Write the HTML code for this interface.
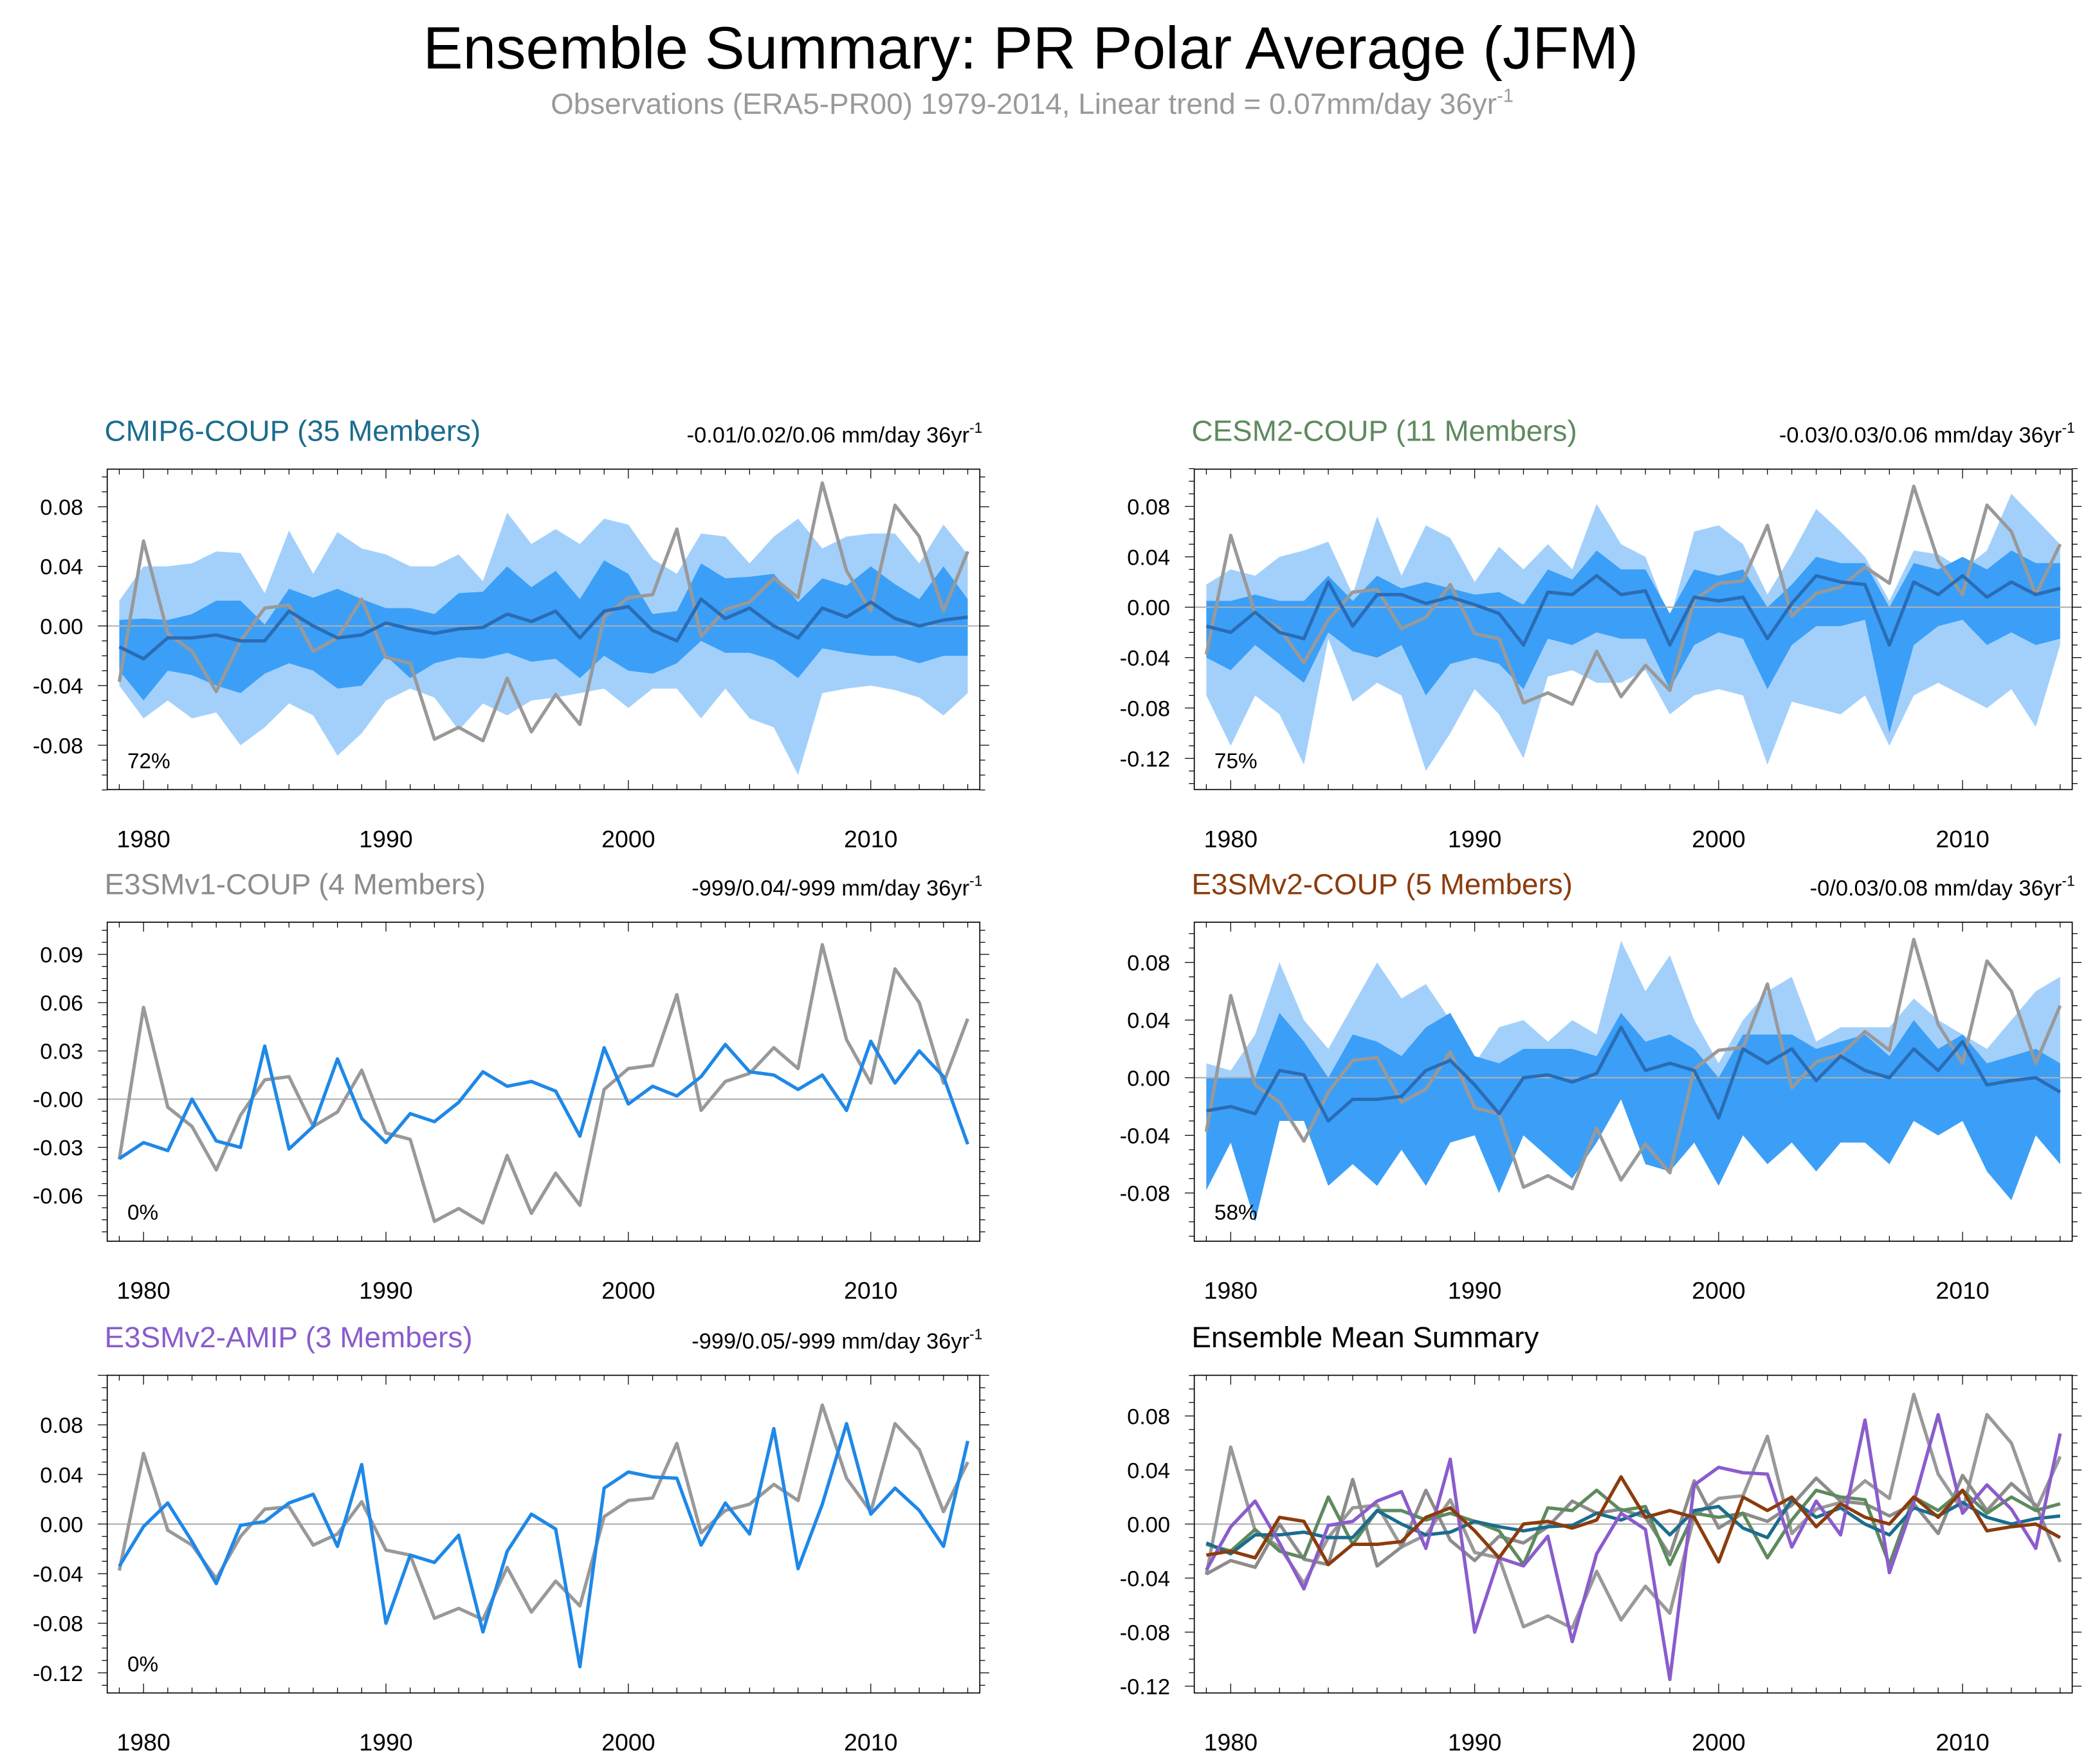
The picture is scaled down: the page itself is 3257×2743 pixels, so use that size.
<!DOCTYPE html>
<html><head><meta charset="utf-8"><style>
html,body{margin:0;padding:0;background:#fff}
svg{display:block}
text{font-family:"Liberation Sans",sans-serif}
</style></head><body>
<svg id="fig" xmlns="http://www.w3.org/2000/svg" width="3257" height="2743" viewBox="0 0 1563 1316" preserveAspectRatio="none">
<text x="769" y="51" font-size="44.5" text-anchor="middle" fill="#000">Ensemble Summary: PR Polar Average (JFM)</text>
<text x="770" y="85" font-size="22" text-anchor="middle" fill="#9a9a9a">Observations (ERA5-PR00) 1979-2014, Linear trend = 0.07mm/day 36yr<tspan dy="-9" font-size="14">-1</tspan></text>
</svg>
<script>
const years = Array.from({length:36},(_, i)=>1979+i);
const obs = [-0.0375,0.057,-0.005,-0.017,-0.044,-0.010,0.012,0.014,-0.017,-0.008,0.018,-0.021,-0.025,-0.076,-0.068,-0.077,-0.035,-0.071,-0.046,-0.066,0.006,0.019,0.021,0.065,-0.007,0.011,0.016,0.032,0.019,0.096,0.037,0.010,0.081,0.060,0.010,0.050];
const cmipMean = [-0.014,-0.022,-0.008,-0.008,-0.006,-0.010,-0.010,0.010,0.000,-0.008,-0.006,0.002,-0.002,-0.005,-0.002,-0.001,0.008,0.003,0.010,-0.008,0.010,0.013,-0.003,-0.010,0.018,0.005,0.012,0.000,-0.008,0.012,0.006,0.016,0.005,0.000,0.004,0.006];
const cmipOutHi = [0.017,0.040,0.040,0.042,0.050,0.049,0.022,0.064,0.035,0.063,0.052,0.048,0.040,0.040,0.048,0.030,0.076,0.055,0.065,0.055,0.072,0.068,0.045,0.035,0.062,0.060,0.042,0.060,0.072,0.052,0.060,0.062,0.062,0.042,0.068,0.048];
const cmipOutLo = [-0.040,-0.062,-0.050,-0.062,-0.058,-0.080,-0.068,-0.052,-0.060,-0.087,-0.072,-0.050,-0.042,-0.048,-0.070,-0.052,-0.060,-0.050,-0.048,-0.045,-0.042,-0.055,-0.042,-0.042,-0.062,-0.042,-0.062,-0.068,-0.100,-0.045,-0.042,-0.040,-0.043,-0.048,-0.060,-0.045];
const cmipInHi = [0.004,0.005,0.004,0.008,0.017,0.017,0.001,0.025,0.019,0.025,0.018,0.012,0.012,0.008,0.022,0.023,0.040,0.026,0.037,0.018,0.044,0.035,0.008,0.010,0.042,0.032,0.033,0.035,0.016,0.032,0.027,0.040,0.028,0.018,0.040,0.018];
const cmipInLo = [-0.030,-0.050,-0.030,-0.033,-0.040,-0.045,-0.032,-0.025,-0.030,-0.042,-0.040,-0.020,-0.035,-0.025,-0.021,-0.022,-0.018,-0.024,-0.022,-0.035,-0.020,-0.030,-0.032,-0.025,-0.010,-0.018,-0.018,-0.023,-0.035,-0.015,-0.018,-0.020,-0.020,-0.025,-0.020,-0.020];
const cesmMean = [-0.015,-0.020,-0.004,-0.020,-0.025,0.020,-0.015,0.010,0.010,0.003,0.008,0.002,-0.005,-0.030,0.012,0.010,0.025,0.010,0.013,-0.030,0.008,0.005,0.008,-0.025,0.003,0.025,0.020,0.018,-0.030,0.020,0.010,0.025,0.008,0.020,0.010,0.015];
const cesmOutHi = [0.018,0.030,0.025,0.040,0.045,0.052,0.010,0.072,0.025,0.065,0.055,0.020,0.048,0.030,0.050,0.030,0.082,0.050,0.040,-0.010,0.060,0.065,0.050,0.010,0.042,0.078,0.060,0.040,0.005,0.045,0.042,0.030,0.045,0.090,0.070,0.050];
const cesmOutLo = [-0.070,-0.110,-0.070,-0.085,-0.125,-0.025,-0.075,-0.060,-0.070,-0.130,-0.100,-0.065,-0.085,-0.120,-0.055,-0.050,-0.060,-0.060,-0.050,-0.085,-0.070,-0.065,-0.070,-0.125,-0.075,-0.080,-0.085,-0.070,-0.110,-0.070,-0.060,-0.070,-0.080,-0.065,-0.095,-0.030];
const cesmInHi = [0.005,0.005,0.010,0.005,0.005,0.025,0.005,0.025,0.015,0.020,0.015,0.010,0.012,0.002,0.030,0.022,0.045,0.030,0.030,-0.005,0.030,0.025,0.030,0.000,0.018,0.040,0.035,0.035,0.000,0.035,0.030,0.040,0.030,0.045,0.035,0.035];
const cesmInLo = [-0.040,-0.050,-0.030,-0.045,-0.060,-0.020,-0.035,-0.040,-0.030,-0.070,-0.045,-0.040,-0.045,-0.065,-0.025,-0.030,-0.020,-0.025,-0.025,-0.065,-0.030,-0.020,-0.025,-0.065,-0.030,-0.015,-0.015,-0.010,-0.100,-0.030,-0.015,-0.010,-0.030,-0.020,-0.030,-0.025];
const v1Mean = [-0.037,-0.027,-0.032,0.000,-0.026,-0.030,0.033,-0.031,-0.017,0.025,-0.012,-0.027,-0.009,-0.014,-0.002,0.017,0.008,0.011,0.005,-0.023,0.032,-0.003,0.008,0.002,0.014,0.034,0.017,0.015,0.006,0.015,-0.007,0.036,0.010,0.030,0.014,-0.028];
const v2Mean = [-0.023,-0.020,-0.025,0.005,0.002,-0.030,-0.015,-0.015,-0.013,0.005,0.012,-0.005,-0.025,0.000,0.002,-0.003,0.003,0.035,0.005,0.010,0.005,-0.028,0.020,0.010,0.020,-0.002,0.015,0.005,0.000,0.020,0.005,0.025,-0.005,-0.002,0.000,-0.010];
const v2OutHi = [0.010,0.005,0.030,0.080,0.040,0.020,0.050,0.080,0.055,0.065,0.040,0.010,0.035,0.040,0.025,0.040,0.030,0.095,0.060,0.085,0.040,0.010,0.040,0.060,0.070,0.025,0.035,0.035,0.035,0.055,0.040,0.030,0.020,0.040,0.060,0.070];
const v2InHi = [0.000,0.000,0.000,0.045,0.025,0.000,0.030,0.025,0.015,0.035,0.045,0.015,0.010,0.020,0.020,0.020,0.015,0.045,0.025,0.030,0.020,0.000,0.030,0.030,0.030,0.020,0.025,0.030,0.015,0.040,0.020,0.030,0.010,0.015,0.020,0.010];
const v2InLo = [-0.078,-0.045,-0.100,-0.030,-0.030,-0.075,-0.060,-0.075,-0.050,-0.075,-0.045,-0.040,-0.080,-0.040,-0.055,-0.070,-0.045,-0.015,-0.060,-0.065,-0.045,-0.075,-0.040,-0.060,-0.045,-0.065,-0.045,-0.045,-0.060,-0.030,-0.040,-0.030,-0.065,-0.085,-0.040,-0.060];
const amipMean = [-0.034,-0.002,0.017,-0.014,-0.048,-0.001,0.002,0.017,0.024,-0.018,0.048,-0.080,-0.025,-0.031,-0.009,-0.087,-0.022,0.008,-0.004,-0.115,0.029,0.042,0.038,0.037,-0.017,0.017,-0.008,0.077,-0.036,0.016,0.081,0.008,0.029,0.011,-0.018,0.067];
const xTickYears = [1980,1990,2000,2010];

const NS="http://www.w3.org/2000/svg";
const svg=document.getElementById('fig');
function mk(tag,attrs,parent){const e=document.createElementNS(NS,tag);for(const k in attrs)e.setAttribute(k,attrs[k]);(parent||svg).appendChild(e);return e;}

function panel(cfg){
  const g=mk('g',{});
  
  
  const {x0,x1,y0,y1,vmin,vmax}=cfg;
  const sx=yr=>x0+9+(yr-1979)*(x1-x0-18)/35;
  const sy=v=>cfg.zeroY - v*cfg.pxPerUnit;
  const poly=(hi,lo,fill,nm)=>{
    let pts=years.map((y,i)=>sx(y)+','+sy(hi[i]));
    pts=pts.concat(years.slice().reverse().map((y,j)=>sx(y)+','+sy(lo[35-j])));
    const p=mk('polygon',{points:pts.join(' '),fill:fill},g);
    
    
  };
  const line=(arr,col,w,nm)=>{
    const p=mk('polyline',{points:years.map((y,i)=>sx(y)+','+sy(arr[i])).join(' '),fill:'none',stroke:col,'stroke-width':w,'stroke-linejoin':'round'},g);
    
    
  };
  if(cfg.outer){poly(cfg.outer[0],cfg.outer[1],'#a3d0fb','outer-spread-band');}
  if(cfg.inner){poly(cfg.inner[0],cfg.inner[1],'#3b9ff7','inner-spread-band');}
  const zl=mk('line',{x1:x0,x2:x1,y1:sy(0),y2:sy(0),stroke:'#b0b0b0','stroke-width':1},g);
  
  
  (cfg.lines||[]).forEach(l=>line(l[0],l[1],l[2],l[3]));
  const fr=mk('rect',{x:x0,y:y0,width:x1-x0,height:y1-y0,fill:'none',stroke:'#000','stroke-width':0.8},g);
  
  
  years.forEach(yr=>{
    const major=yr%10===0, x=sx(yr), L=major?7:4;
    mk('line',{x1:x,x2:x,y1:y1,y2:y1-L,stroke:'#000','stroke-width':0.6},g);
    mk('line',{x1:x,x2:x,y1:y0,y2:y0+L,stroke:'#000','stroke-width':0.6},g);
  });
  xTickYears.forEach(yr=>{
    const t=mk('text',{x:sx(yr),y:y1+43,'font-size':18,'text-anchor':'middle'},g);
    t.textContent=yr;
    
    
  });
  const step=cfg.step, minor=step/4;
  for(let v=Math.ceil(vmin/minor)*minor; v<=vmax+1e-9; v+=minor){
    const y=sy(v); if(y<y0-0.5||y>y1+0.5) continue;
    const isMaj=Math.abs(Math.round(v/step)*step-v)<1e-9;
    const L=isMaj?7:4;
    mk('line',{x1:x0,x2:x0-L,y1:y,y2:y,stroke:'#000','stroke-width':0.6},g);
    mk('line',{x1:x1,x2:x1+L,y1:y,y2:y,stroke:'#000','stroke-width':0.6},g);
  }
  cfg.yticks.forEach(v=>{
    const t=mk('text',{x:x0-18,y:sy(v)+6,'font-size':16.5,'text-anchor':'end'},g);
    t.textContent=(v<0?'-':(cfg.negZero&&v===0?'-':''))+Math.abs(v).toFixed(2);
    
    
  });
  const tt=mk('text',{x:x0-2,y:y0-21,'font-size':22,fill:cfg.tcolor},g);
  tt.textContent=cfg.title;
  
  
  if(cfg.trend){
    const tr=mk('text',{x:x1+2,y:y0-20,'font-size':16.5,'text-anchor':'end'},g);
    tr.innerHTML=cfg.trend+' mm/day 36yr<tspan dy="-7" font-size="11">-1</tspan>';
    
    
  }
  if(cfg.pct){
    const pc=mk('text',{x:x0+15,y:y1-16,'font-size':16},g);
    pc.textContent=cfg.pct;
    
    
  }
}
const GRAY='#999999', MEANB='#2a6cb5', LB='#1e88e8';
panel({name:'cmip6-panel',x0:80,x1:731,y0:350,y1:589,zeroY:467,pxPerUnit:1112,vmin:-0.11,vmax:0.11,step:0.04,yticks:[0.08,0.04,0,-0.04,-0.08],
 outer:[cmipOutHi,cmipOutLo],inner:[cmipInHi,cmipInLo],lines:[[obs,GRAY,2.5,'observations-line'],[cmipMean,MEANB,2.5,'ensemble-mean-line']],
 title:'CMIP6-COUP (35 Members)',tcolor:'#1b6c8e',trend:'-0.01/0.02/0.06',pct:'72%'});
panel({name:'cesm2-panel',x0:891,x1:1546,y0:350,y1:589,zeroY:453,pxPerUnit:940,vmin:-0.15,vmax:0.12,step:0.04,yticks:[0.08,0.04,0,-0.04,-0.08,-0.12],
 outer:[cesmOutHi,cesmOutLo],inner:[cesmInHi,cesmInLo],lines:[[obs,GRAY,2.5,'observations-line'],[cesmMean,MEANB,2.5,'ensemble-mean-line']],
 title:'CESM2-COUP (11 Members)',tcolor:'#5e8a5e',trend:'-0.03/0.03/0.06',pct:'75%'});
panel({name:'e3smv1-panel',x0:80,x1:731,y0:688,y1:926,zeroY:820,pxPerUnit:1200,vmin:-0.09,vmax:0.11,step:0.03,yticks:[0.09,0.06,0.03,0,-0.03,-0.06],negZero:true,
 lines:[[obs,GRAY,2.5,'observations-line'],[v1Mean,LB,2.5,'ensemble-mean-line']],
 title:'E3SMv1-COUP (4 Members)',tcolor:'#8c8c8c',trend:'-999/0.04/-999',pct:'0%'});
panel({name:'e3smv2-coup-panel',x0:891,x1:1546,y0:688,y1:926,zeroY:804,pxPerUnit:1075,vmin:-0.11,vmax:0.11,step:0.04,yticks:[0.08,0.04,0,-0.04,-0.08],
 outer:[v2OutHi,v2InLo],inner:[v2InHi,v2InLo],lines:[[obs,GRAY,2.5,'observations-line'],[v2Mean,MEANB,2.5,'ensemble-mean-line']],
 title:'E3SMv2-COUP (5 Members)',tcolor:'#8b3c0c',trend:'-0/0.03/0.08',pct:'58%'});
panel({name:'e3smv2-amip-panel',x0:80,x1:731,y0:1026,y1:1263,zeroY:1137,pxPerUnit:925,vmin:-0.135,vmax:0.12,step:0.04,yticks:[0.08,0.04,0,-0.04,-0.08,-0.12],
 lines:[[obs,GRAY,2.5,'observations-line'],[amipMean,LB,2.5,'ensemble-mean-line']],
 title:'E3SMv2-AMIP (3 Members)',tcolor:'#8a5ccc',trend:'-999/0.05/-999',pct:'0%'});
panel({name:'ensemble-mean-summary-panel',x0:891,x1:1546,y0:1026,y1:1263,zeroY:1137,pxPerUnit:1008,vmin:-0.125,vmax:0.11,step:0.04,yticks:[0.08,0.04,0,-0.04,-0.08,-0.12],
 lines:[[obs,GRAY,2.5,'observations-line'],[v1Mean,'#8c8c8c',2.5,'e3smv1-mean-line'],[cesmMean,'#5e8a5e',2.5,'cesm2-mean-line'],[cmipMean,'#1b6c8e',2.5,'cmip6-mean-line'],[amipMean,'#8a5ccc',2.5,'e3smv2-amip-mean-line'],[v2Mean,'#8b3c0c',2.5,'e3smv2-coup-mean-line']],
 title:'Ensemble Mean Summary',tcolor:'#000'});
</script>
</body></html>
